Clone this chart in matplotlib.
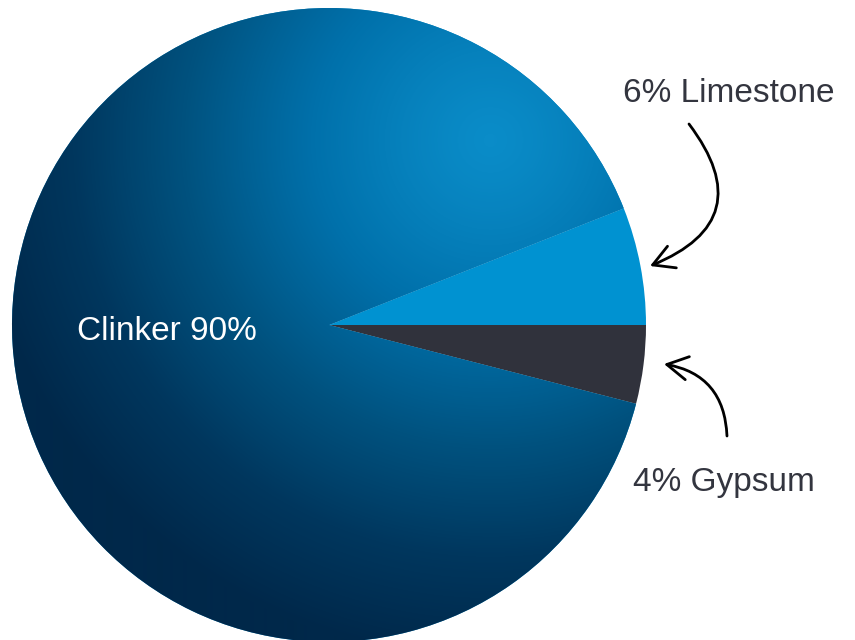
import numpy as np
import matplotlib
matplotlib.use("Agg")
import matplotlib.pyplot as plt
from matplotlib.colors import LinearSegmentedColormap

# Data
categories = ["Limestone", "Clinker", "Gypsum"]
shares = [6, 90, 4]
slice_colors = ["#0092D1", "#0A8CC8", "#30323C"]
label_texts = ["6% Limestone", "Clinker 90%", "4% Gypsum"]

W, H = 855, 640
fig = plt.figure(figsize=(W / 100, H / 100), dpi=100)
ax = fig.add_axes([0, 0, 1, 1])

cx, cy, R = 329, H - 325, 317
wedges, _ = ax.pie(shares, colors=slice_colors, startangle=0, counterclock=True,
                   radius=R, center=(cx, cy), frame=True,
                   wedgeprops=dict(linewidth=0, antialiased=True))

# radial gradient for clinker slice
xs = np.arange(W) + 0.5
ys = np.arange(H) + 0.5
X, Y = np.meshgrid(xs, ys)
hx, hy = 490, H - 140
d = np.hypot(X - hx, Y - hy)
t = np.clip(d / 520.0, 0, 1) ** 1.3
cmap = LinearSegmentedColormap.from_list(
    "clk", ["#0A8CC8", "#0070AA", "#00527F", "#00375E", "#00284A"])
img = ax.imshow(t, cmap=cmap, vmin=0, vmax=1, extent=[0, W, 0, H],
                origin="lower", interpolation="bilinear", zorder=2)
img.set_clip_path(wedges[1])

ax.set_xlim(0, W)
ax.set_ylim(0, H)
ax.set_aspect("equal")
ax.axis("off")

font = ["Liberation Sans", "DejaVu Sans"]
ax.text(729, H - 93, label_texts[0], fontsize=24, color="#33353F", family=font,
        ha="center", va="center", zorder=5)
ax.text(167, H - 332, label_texts[1], fontsize=24, color="white", family=font,
        ha="center", va="center", zorder=5)
ax.text(724, H - 482, label_texts[2], fontsize=24, color="#33353F", family=font,
        ha="center", va="center", zorder=5)

ax.annotate("", xy=(650, H - 266), xytext=(689, H - 124),
            arrowprops=dict(arrowstyle="->,head_length=0.5,head_width=0.28",
                            connectionstyle="arc3,rad=-0.65", color="black",
                            lw=2.0, mutation_scale=30, shrinkA=0, shrinkB=0),
            zorder=6)
ax.annotate("", xy=(664, H - 364), xytext=(727, H - 436),
            arrowprops=dict(arrowstyle="->,head_length=0.5,head_width=0.28",
                            connectionstyle="arc3,rad=0.4", color="black",
                            lw=2.0, mutation_scale=30, shrinkA=0, shrinkB=0),
            zorder=6)

fig.savefig("out.png", dpi=100)
